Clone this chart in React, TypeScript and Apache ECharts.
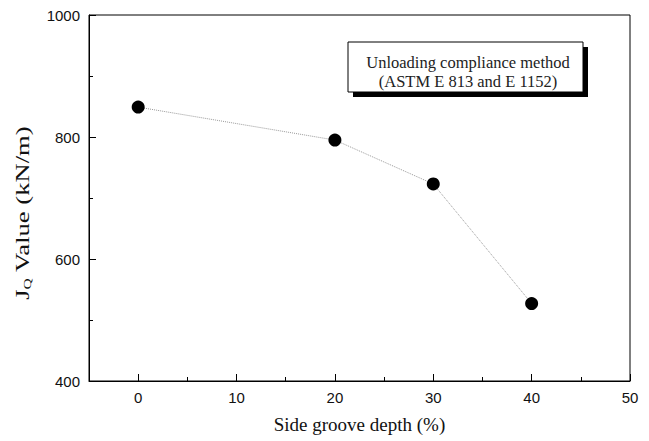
import React, { useEffect, useRef } from "react";
import * as echarts from "echarts";

const depths = [0, 20, 30, 40];
const jqValues = [849, 795, 723, 527];
const xLabels = [0, 10, 20, 30, 40, 50];
const legendLines = ["Unloading compliance method", "(ASTM E 813 and E 1152)"];
const yTitle = "{a|J}{s|Q}{a| Value (kN/m)}";

export default function App() {
  const ref = useRef<HTMLDivElement>(null);
  useEffect(() => {
    const chart = echarts.init(ref.current!, null, { renderer: "svg" });
    const sans = "Liberation Sans, Arial, sans-serif";
    const serif = "Liberation Serif, Times New Roman, serif";
    chart.setOption({
      animation: false,
      backgroundColor: "#fff",
      grid: { left: 89, right: 19, top: 15, bottom: 60, show: true, borderColor: "#000", borderWidth: 1 },
      xAxis: [
        {
          type: "value",
          min: -5,
          max: 50,
          position: "bottom",
          axisLine: { show: true, onZero: false, lineStyle: { color: "#000", width: 1 } },
          axisTick: { show: true, inside: true, length: 7, customValues: xLabels, lineStyle: { color: "#000" } },
          axisLabel: { show: true, customValues: xLabels, color: "#111", fontFamily: sans, fontSize: 15, margin: 9 },
          splitLine: { show: false },
          name: "Side groove depth (%)",
          nameLocation: "middle",
          nameGap: 34,
          nameTextStyle: { fontFamily: serif, fontSize: 19, color: "#111" },
        },
        {
          type: "value",
          min: -5,
          max: 50,
          interval: 10,
          position: "bottom",
          axisLine: { show: false, onZero: false },
          axisTick: { show: true, inside: true, length: 4, lineStyle: { color: "#000" } },
          axisLabel: { show: false },
          splitLine: { show: false },
        },
      ],
      yAxis: {
        type: "value",
        min: 400,
        max: 1000,
        interval: 200,
        axisLine: { show: true, onZero: false, lineStyle: { color: "#000", width: 1 } },
        axisTick: { show: true, inside: true, length: 7, lineStyle: { color: "#000" } },
        minorTick: { show: true, splitNumber: 2, length: 4, lineStyle: { color: "#000" } },
        axisLabel: { color: "#111", fontFamily: sans, fontSize: 15, margin: 9, formatter: (v: number) => String(v) },
        splitLine: { show: false },
      },
      series: [
        {
          type: "line",
          xAxisIndex: 0,
          data: depths.map((d, i) => [d, jqValues[i]]),
          symbol: "circle",
          symbolSize: 13,
          itemStyle: { color: "#000" },
          lineStyle: { color: "#999", width: 1, type: "dotted" },
        },
      ],
      graphic: [
        {
          type: "text",
          x: 22,
          y: 213,
          rotation: Math.PI / 2,
          scaleX: 1.4,
          style: {
            text: yTitle,
            align: "center",
            verticalAlign: "middle",
            fill: "#111",
            rich: {
              a: { fontFamily: serif, fontSize: 19, fill: "#111" },
              s: { fontFamily: serif, fontSize: 11, fill: "#111", verticalAlign: "bottom", padding: [10, 0, 0, 0] },
            },
          },
        },
        { type: "rect", shape: { x: 353, y: 47, width: 235, height: 50 }, style: { fill: "#000" } },
        { type: "rect", shape: { x: 348, y: 42, width: 235, height: 50 }, style: { fill: "#fff", stroke: "#000", lineWidth: 1 } },
        {
          type: "text",
          x: 468,
          y: 62,
          style: { text: legendLines[0], fontFamily: serif, fontSize: 16.5, fill: "#222", align: "center", verticalAlign: "middle" },
        },
        {
          type: "text",
          x: 468,
          y: 81,
          style: { text: legendLines[1], fontFamily: serif, fontSize: 16.5, fill: "#222", align: "center", verticalAlign: "middle" },
        },
      ],
    });
    return () => chart.dispose();
  }, []);
  return <div ref={ref} style={{ width: 649, height: 441, position: "fixed", left: 0, top: 0 }} />;
}
